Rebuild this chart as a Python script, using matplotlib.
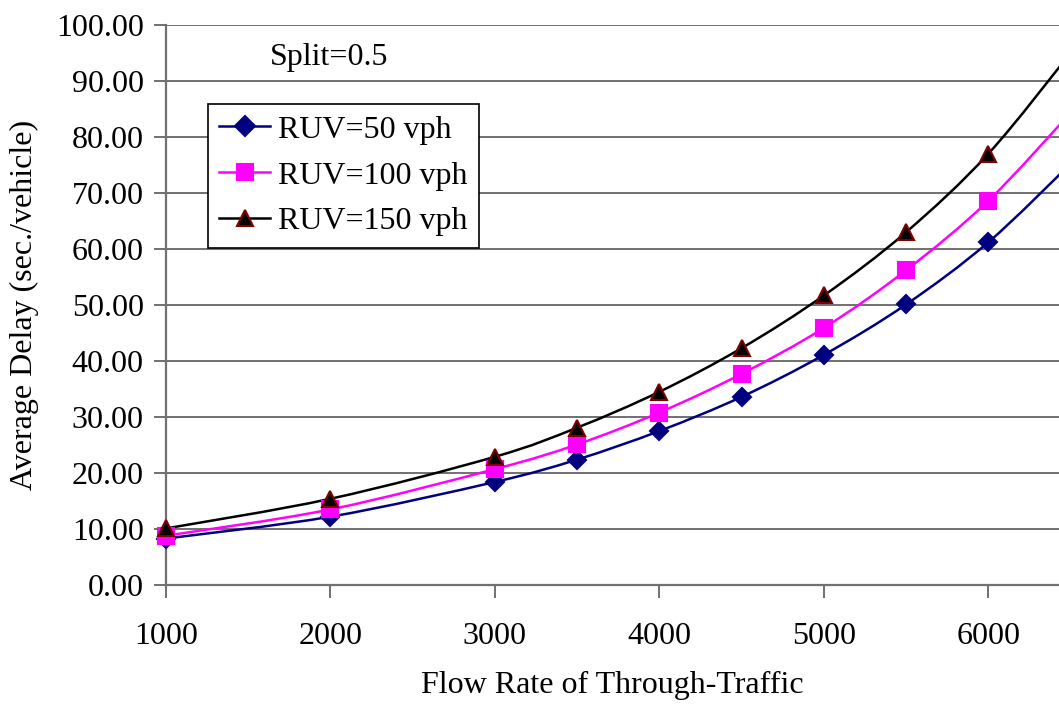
import matplotlib
matplotlib.use("Agg")
import matplotlib.pyplot as plt
from matplotlib.path import Path
from matplotlib.patches import PathPatch
from matplotlib.lines import Line2D
import numpy as np

# data (last point lies just past the right edge)
flow = [1000, 2000, 3000, 3500, 4000, 4500, 5000, 5500, 6000, 6500]
ruv50 = [8.3, 12.2, 18.4, 22.4, 27.5, 33.6, 41.1, 50.1, 61.2, 75.2]
ruv100 = [8.8, 13.5, 20.7, 25.1, 30.8, 37.7, 45.9, 56.2, 68.6, 84.3]
ruv150 = [10.1, 15.4, 22.9, 28.1, 34.5, 42.3, 51.7, 63.0, 77.0, 95.0]
labels = ["RUV=50 vph", "RUV=100 vph", "RUV=150 vph"]

plt.rcParams['font.family'] = ['Liberation Serif', 'DejaVu Serif']
fs = 23


# smoothed line like the spreadsheet one: bezier segments through the points
def smooth_path(x, y):
    pts = np.column_stack([x, y]).astype(float)
    n = len(pts)
    verts = [pts[0]]
    codes = [Path.MOVETO]
    for i in range(n - 1):
        p0 = pts[max(i - 1, 0)]
        p1 = pts[i]
        p2 = pts[i + 1]
        p3 = pts[min(i + 2, n - 1)]
        verts += [p1 + (p2 - p0) / 6, p2 - (p3 - p1) / 6, p2]
        codes += [Path.CURVE4] * 3
    return Path(verts, codes)


fig = plt.figure(figsize=(10.59, 7.04), dpi=100)
ax = fig.add_axes([166 / 1059, 1 - 585 / 704, 1 - 166 / 1059, 560 / 704])

styles = [
    (ruv50, "#000080", "D", "#000080", "#000080", 9),
    (ruv100, "#ff00ff", "s", "#ff00ff", "#ff00ff", 11),
    (ruv150, "#000000", "^", "#000000", "#800000", 11),
]
handles = []
for (vals, col, mk, face, edge, ms), lab in zip(styles, labels):
    ax.add_patch(PathPatch(smooth_path(flow, vals), fill=False, edgecolor=col, lw=1.8, zorder=3))
    ax.plot(flow, vals, ls="none", marker=mk, ms=ms, mfc=face, mec=edge, mew=1.5,
            zorder=4, clip_on=False)
    handles.append(Line2D([], [], color=col, lw=1.8, marker=mk, ms=ms + 1, mfc=face,
                          mec=edge, mew=1.5, label=lab))

ax.set_xlim(1000, 6430)
ax.set_ylim(0, 100)
ax.set_xticks([1000, 2000, 3000, 4000, 5000, 6000])
ax.set_yticks(np.arange(0, 101, 10))
ax.set_yticklabels([f"{v:.2f}" for v in np.arange(0, 101, 10)])
ax.yaxis.grid(True, color="#707070", lw=1.4)
ax.set_axisbelow(True)
for s in ["top", "right"]:
    ax.spines[s].set_visible(False)
for s in ["left", "bottom"]:
    ax.spines[s].set_color("#707070")
    ax.spines[s].set_linewidth(1.6)
ax.tick_params(axis="both", labelsize=fs, length=9, width=1.4, color="#707070")
ax.tick_params(axis="x", pad=18)
ax.tick_params(axis="y", pad=7)

ax.set_xlabel("Flow Rate of Through-Traffic", fontsize=fs, labelpad=14)
ax.set_ylabel("Average Delay (sec./vehicle)", fontsize=fs, labelpad=12)

fig.text(270 / 1059, 1 - 58 / 704, "Split=0.5", fontsize=fs, va="center", ha="left")

leg = ax.legend(handles=handles, loc="upper left", bbox_to_anchor=(208 / 1059, 1 - 104 / 704),
                bbox_transform=fig.transFigure, fontsize=fs, frameon=True, fancybox=False,
                framealpha=1, edgecolor="black", borderaxespad=0, handlelength=1.6,
                handletextpad=0.25, labelspacing=0.52, borderpad=0.35)
leg.get_frame().set_linewidth(1.2)

fig.savefig("out.png", dpi=100)
